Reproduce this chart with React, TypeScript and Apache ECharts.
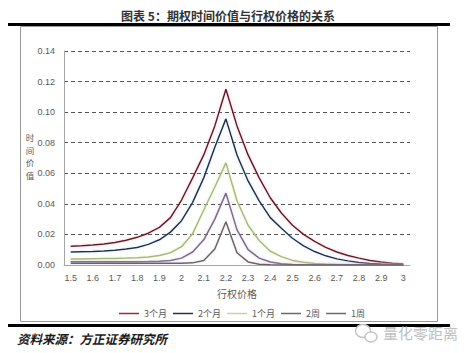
import React, { useEffect, useRef } from "react";
import * as echarts from "echarts";

const strikes = [1.5, 1.55, 1.6, 1.65, 1.7, 1.75, 1.8, 1.85, 1.9, 1.95, 2.0, 2.05, 2.1, 2.15, 2.2, 2.25, 2.3, 2.35, 2.4, 2.45, 2.5, 2.55, 2.6, 2.65, 2.7, 2.75, 2.8, 2.85, 2.9, 2.95, 3.0];
const xTickLabels = [1.5, 1.6, 1.7, 1.8, 1.9, 2, 2.1, 2.2, 2.3, 2.4, 2.5, 2.6, 2.7, 2.8, 2.9, 3];

const seriesNames = ["3个月", "2个月", "1个月", "2周", "1周"];
const yAxisNameChars = ["时", "间", "价", "值"];

const threeMonth = [0.0122, 0.0126, 0.0131, 0.0138, 0.0147, 0.0162, 0.0181, 0.0208, 0.0246, 0.031, 0.0425, 0.057, 0.072, 0.091, 0.115,
  0.091, 0.072, 0.057, 0.044, 0.034, 0.026, 0.02, 0.0155, 0.0115, 0.0085, 0.0062, 0.0045, 0.003, 0.002, 0.0012, 0.0006];
const twoMonth = [0.0085, 0.0087, 0.0089, 0.0092, 0.0096, 0.0104, 0.0115, 0.0135, 0.0165, 0.0215, 0.029, 0.041, 0.057, 0.077, 0.0956,
  0.072, 0.055, 0.042, 0.031, 0.024, 0.0175, 0.0125, 0.0088, 0.006, 0.004, 0.0027, 0.0017, 0.001, 0.0006, 0.0003, 0.0002];
const oneMonth = [0.004, 0.004, 0.0041, 0.0042, 0.0043, 0.0045, 0.0048, 0.0053, 0.0062, 0.008, 0.012, 0.0205, 0.036, 0.051, 0.0668,
  0.042, 0.026, 0.016, 0.009, 0.0055, 0.003, 0.0018, 0.001, 0.0006, 0.0004, 0.0002, 0.0001, 0.0001, 0, 0, 0];
const twoWeek = [0.0022, 0.0022, 0.0022, 0.0022, 0.0022, 0.0022, 0.0022, 0.0023, 0.0025, 0.003, 0.0045, 0.0085, 0.0165, 0.03, 0.047,
  0.023, 0.01, 0.0045, 0.002, 0.0008, 0.0003, 0.0001, 0, 0, 0, 0, 0, 0, 0, 0, 0];
const oneWeek = [0.0012, 0.0012, 0.0012, 0.0012, 0.0012, 0.0012, 0.0012, 0.0012, 0.0012, 0.0012, 0.0012, 0.0014, 0.003, 0.0105, 0.0283,
  0.008, 0.002, 0.0005, 0.0001, 0, 0, 0, 0, 0, 0, 0, 0, 0, 0, 0, 0];

const seriesValues = [threeMonth, twoMonth, oneMonth, twoWeek, oneWeek];
const lineColors = ["#641826", "#1e2d4a", "#a8b97f", "#7b6a8e", "#6e6068"];
const legendColors = ["#9a2a3c", "#2a2f3a", "#c8d0a4", "#6a6a6a", "#6a6a6a"];
const glowColors = ["rgba(240,140,160,0.5)", "rgba(160,195,230,0.5)", "rgba(225,235,170,0.7)", "rgba(195,180,225,0.5)", "rgba(200,190,200,0.45)"];

const CJK = '"Noto Sans CJK SC", sans-serif';
const NUM = '"Liberation Sans", "Noto Sans CJK SC", sans-serif';

export default function App() {
  const ref = useRef<HTMLDivElement>(null);
  useEffect(() => {
    if (!ref.current) return;
    const chart = echarts.init(ref.current, null, { renderer: "svg" });
    chart.setOption({
      animation: false,
      backgroundColor: "#ffffff",
      grid: { left: 64, right: 62, top: 51, bottom: 88 },
      xAxis: {
        type: "value",
        min: 1.47,
        max: 3.03,
        axisLine: { show: true, lineStyle: { color: "#a6a6a6", width: 1 } },
        axisTick: { show: false },
        splitLine: { show: false },
        axisLabel: {
          customValues: xTickLabels,
          color: "#595959",
          fontSize: 9,
          fontFamily: NUM,
          margin: 8,
        },
        name: "行权价格",
        nameLocation: "middle",
        nameGap: 23,
        nameTextStyle: { color: "#595959", fontSize: 10, fontFamily: CJK },
      },
      yAxis: {
        type: "value",
        min: 0,
        max: 0.14,
        interval: 0.02,
        axisLine: { show: true, lineStyle: { color: "#a6a6a6", width: 1 } },
        axisTick: { show: false },
        axisLabel: {
          formatter: (v: number) => v.toFixed(2),
          color: "#595959",
          fontSize: 9,
          fontFamily: NUM,
          margin: 9,
        },
        splitLine: { show: true, lineStyle: { color: "#555555", type: [4, 3], width: 1 } },
      },
      legend: {
        left: 114,
        top: 304,
        icon: "rect",
        itemWidth: 20,
        itemHeight: 1.5,
        itemGap: 6,
        textStyle: { color: "#595959", fontSize: 9, fontFamily: CJK },
        data: seriesNames.map((n, i) => ({ name: n, itemStyle: { color: legendColors[i] } })),
      },
      series: seriesNames.map((name, i) => ({
        name,
        type: "line",
        symbol: "none",
        data: strikes.map((s, j) => [s, seriesValues[i][j]]),
        lineStyle: { color: lineColors[i], width: 1.5, shadowColor: glowColors[i], shadowBlur: 3 },
        itemStyle: { color: lineColors[i] },
        z: 2 + i,
      })),
      graphic: [
        {
          type: "text",
          x: 228,
          y: 15,
          style: {
            text: "图表 5：期权时间价值与行权价格的关系",
            textAlign: "center",
            textVerticalAlign: "middle",
            fontSize: 12,
            fontWeight: "bold",
            fontFamily: CJK,
            fill: "#333333",
          },
        },
        { type: "rect", shape: { x: 8, y: 23, width: 442, height: 3 }, style: { fill: "#000000" } },
        {
          type: "rect",
          shape: { x: 20.5, y: 26.5, width: 417, height: 295 },
          style: { fill: "none", stroke: "#9a9a9a", lineWidth: 1 },
        },
        ...yAxisNameChars.map((ch, i) => ({
          type: "text",
          x: 30,
          y: 137.4 + i * 12.4,
          style: {
            text: ch,
            textAlign: "center",
            textVerticalAlign: "middle",
            fontSize: 8.5,
            fontFamily: CJK,
            fill: "#595959",
          },
        })),
        { type: "rect", shape: { x: 8, y: 324, width: 442, height: 3 }, style: { fill: "#000000" } },
        {
          type: "text",
          x: 17,
          y: 338,
          style: {
            text: "资料来源：方正证券研究所",
            textAlign: "left",
            textVerticalAlign: "middle",
            fontSize: 12.5,
            fontWeight: "bold",
            fontStyle: "italic",
            fontFamily: CJK,
            fill: "#1a1a1a",
          },
        },
        {
          type: "ellipse",
          shape: { cx: 363, cy: 331, rx: 7.5, ry: 6.5 },
          style: { fill: "#ffffff", stroke: "#c4c4c4", lineWidth: 1.5 },
        },
        {
          type: "ellipse",
          shape: { cx: 371, cy: 337, rx: 6, ry: 5 },
          style: { fill: "#ffffff", stroke: "#c4c4c4", lineWidth: 1.5 },
        },
        {
          type: "text",
          x: 383,
          y: 332,
          style: {
            text: "量化零距离",
            textAlign: "left",
            textVerticalAlign: "middle",
            fontSize: 15,
            fontFamily: CJK,
            fill: "#c0c0c0",
          },
        },
      ],
    });
    return () => chart.dispose();
  }, []);
  return (
    <div
      ref={ref}
      style={{ position: "absolute", left: 0, top: 0, width: 472, height: 353, background: "#fff" }}
    />
  );
}
